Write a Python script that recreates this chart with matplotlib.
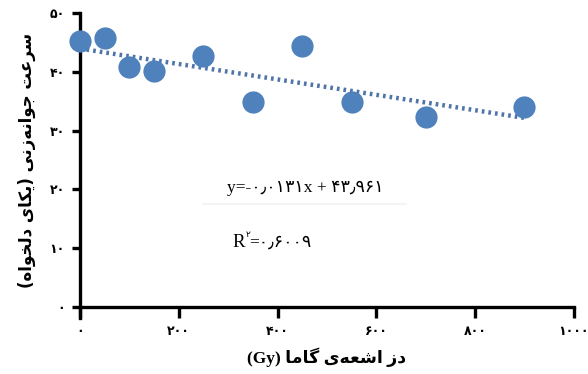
import matplotlib
matplotlib.use("Agg")
import matplotlib.pyplot as plt
import numpy as np

# ---- data ----
dose = [0, 50, 100, 150, 250, 350, 450, 550, 700, 900]
speed = [45.2, 45.8, 40.8, 40.2, 42.7, 34.8, 44.4, 34.8, 32.4, 34.0]
trend_slope = -0.0131
trend_intercept = 43.961
x_ticks = [0, 200, 400, 600, 800, 1000]
x_tick_labels = ["۰", "۲۰۰", "۴۰۰", "۶۰۰", "۸۰۰", "۱۰۰۰"]
y_ticks = [0, 10, 20, 30, 40, 50]
y_tick_labels = ["۰", "۱۰", "۲۰", "۳۰", "۴۰", "۵۰"]
x_label_fa = "دز اشعه‌ی گاما"
x_label_unit = "(Gy)"
y_label_fa = "سرعت جوانه‌زنی (یکای دلخواه)"
eq_text = "y=-۰٫۰۱۳۱x + ۴۳٫۹۶۱"
r2_value = "=۰٫۶۰۰۹"

# ---- minimal Persian shaping (presentation forms) ----
FORMS = {  # isolated, final, initial, medial
    'ا': ('\uFE8D', '\uFE8E', None, None),
    'ت': ('\uFE95', '\uFE96', '\uFE97', '\uFE98'),
    'ج': ('\uFE9D', '\uFE9E', '\uFE9F', '\uFEA0'),
    'خ': ('\uFEA5', '\uFEA6', '\uFEA7', '\uFEA8'),
    'د': ('\uFEA9', '\uFEAA', None, None),
    'ر': ('\uFEAD', '\uFEAE', None, None),
    'ز': ('\uFEAF', '\uFEB0', None, None),
    'س': ('\uFEB1', '\uFEB2', '\uFEB3', '\uFEB4'),
    'ش': ('\uFEB5', '\uFEB6', '\uFEB7', '\uFEB8'),
    'ع': ('\uFEC9', '\uFECA', '\uFECB', '\uFECC'),
    'ل': ('\uFEDD', '\uFEDE', '\uFEDF', '\uFEE0'),
    'م': ('\uFEE1', '\uFEE2', '\uFEE3', '\uFEE4'),
    'ن': ('\uFEE5', '\uFEE6', '\uFEE7', '\uFEE8'),
    'ه': ('\uFEE9', '\uFEEA', '\uFEEB', '\uFEEC'),
    'و': ('\uFEED', '\uFEEE', None, None),
    'ی': ('\uFBFC', '\uFBFD', '\uFBFE', '\uFBFF'),
    'ک': ('\uFB8E', '\uFB8F', '\uFB90', '\uFB91'),
    'گ': ('\uFB92', '\uFB93', '\uFB94', '\uFB95'),
}
MIRROR = {'(': ')', ')': '('}


def shape_rtl(s):
    out = []
    n = len(s)
    for i, ch in enumerate(s):
        if ch not in FORMS:
            if ch == '\u200c':
                continue
            out.append(MIRROR.get(ch, ch))
            continue
        prev = s[i - 1] if i > 0 else None
        nxt = s[i + 1] if i < n - 1 else None
        join_prev = prev in FORMS and FORMS[prev][2] is not None
        join_next = (nxt in FORMS) and FORMS[ch][2] is not None
        f = FORMS[ch]
        if join_prev and join_next:
            out.append(f[3])
        elif join_prev:
            out.append(f[1])
        elif join_next:
            out.append(f[2])
        else:
            out.append(f[0])
    return ''.join(reversed(out))


FA = ['DejaVu Sans']
SERIF = ['Liberation Serif', 'DejaVu Sans']

fig = plt.figure(figsize=(5.88, 3.74), dpi=100)
ax = fig.add_axes([0.136, 0.179, 0.840, 0.786])

ax.plot(dose, speed, 'o', color='#4F81BD', markersize=16, zorder=3,
        markeredgewidth=0, clip_on=False)
tx = np.array([0, 900])
ax.plot(tx, trend_intercept + trend_slope * tx, linestyle=(0, (0.6, 0.9)),
        color='#4F74A8', linewidth=3.2, dash_capstyle='butt', zorder=2,
        clip_on=False)

ax.set_xlim(0, 1000)
ax.set_ylim(0, 50)
ax.set_xticks(x_ticks)
ax.set_xticklabels(x_tick_labels, family=FA, fontsize=9, fontweight='bold')
ax.set_yticks(y_ticks)
ax.set_yticklabels(y_tick_labels, family=FA, fontsize=9, fontweight='bold')
for s in ['top', 'right']:
    ax.spines[s].set_visible(False)
for s in ['left', 'bottom']:
    ax.spines[s].set_linewidth(2.4)
ax.spines['left'].set_bounds(-1.8, 50)
ax.tick_params(axis='x', length=8, width=2.4, pad=5, direction='out')
ax.tick_params(axis='y', length=6, width=2.4, pad=5, direction='out')

ax.set_xlabel(x_label_unit + ' ' + shape_rtl(x_label_fa), family=SERIF,
              fontsize=12.5, fontweight='bold', labelpad=7)
ax.set_ylabel(shape_rtl(y_label_fa), family=FA, fontsize=12,
              fontweight='bold', labelpad=10)

ax.text(0.298, 0.393, eq_text, transform=ax.transAxes, family=SERIF,
        fontsize=12.5)
ax.plot([0.25, 0.66], [0.35, 0.35], transform=ax.transAxes,
        color='#f2f2f2', lw=1.2, zorder=1)
ax.text(0.308, 0.205, "R", transform=ax.transAxes, family=SERIF,
        fontsize=13.5)
ax.annotate("۲", xy=(0.308, 0.205), xycoords='axes fraction',
            xytext=(9.5, 7), textcoords='offset points', family=FA,
            fontsize=6.5)
ax.annotate(r2_value, xy=(0.308, 0.205), xycoords='axes fraction',
            xytext=(12.5, 0), textcoords='offset points', family=SERIF,
            fontsize=12.5)

fig.savefig('out.png', dpi=100, facecolor='white')
